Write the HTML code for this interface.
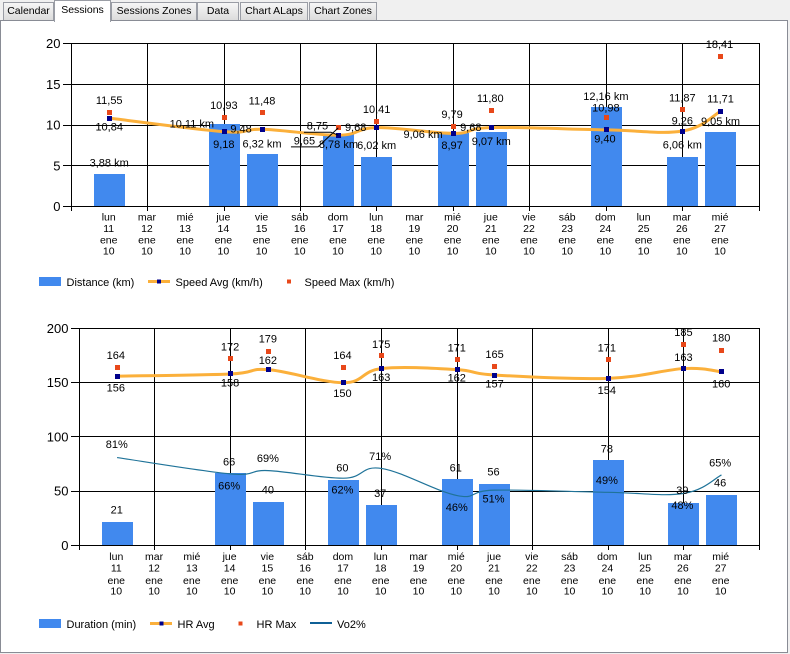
<!DOCTYPE html>
<html lang="es">
<head>
<meta charset="utf-8">
<title>Sessions charts</title>
<style>
html,body{margin:0;padding:0;background:#f0f0f0;}
#root{position:relative;width:790px;height:654px;overflow:hidden;background:#f0f0f0;font-family:"Liberation Sans",sans-serif;}
#panel{position:absolute;left:0;top:20px;width:786px;height:631px;background:#fff;border:1px solid #898c95;}
.tab{position:absolute;top:2px;height:18px;box-sizing:border-box;border:1px solid #9a9da5;border-bottom:none;background:linear-gradient(#f6f6f6,#dcdcdc);font-size:10.5px;line-height:17px;text-align:center;color:#000;}
.tab.active{top:0;height:22px;background:#fff;line-height:19px;z-index:2;border-bottom:none;}
svg{position:absolute;left:0;top:0;}
text{font-family:"Liberation Sans",sans-serif;fill:#000;}
</style>
</head>
<body>
<div id="root">
  <div id="panel"></div>
  <div class="tab" style="left:3px;width:51px">Calendar</div>
  <div class="tab active" style="left:54px;width:57px">Sessions</div>
  <div class="tab" style="left:111px;width:86px">Sessions Zones</div>
  <div class="tab" style="left:197px;width:42px">Data</div>
  <div class="tab" style="left:240px;width:68px">Chart ALaps</div>
  <div class="tab" style="left:309px;width:68px">Chart Zones</div>

  <svg id="chart" width="790" height="654" viewBox="0 0 790 654">
    <g>
      <rect x="39" y="277" width="22" height="9" fill="#4189ee"/>
      <text x="66.5" y="286" font-size="11">Distance (km)</text>
      <rect x="148" y="280" width="22" height="3" fill="#fbb03b"/>
      <rect x="157" y="279.5" width="4" height="4" fill="#00008b"/>
      <text x="175.5" y="286" font-size="11">Speed Avg (km/h)</text>
      <rect x="287" y="279.5" width="4" height="4" fill="#e8481a"/>
      <text x="304.5" y="286" font-size="11">Speed Max (km/h)</text>
    </g>
    <g>
      <rect x="39" y="619" width="22" height="9" fill="#4189ee"/>
      <text x="66.5" y="628" font-size="11">Duration (min)</text>
      <rect x="150" y="622" width="22" height="3" fill="#fbb03b"/>
      <rect x="159.5" y="621.5" width="4" height="4" fill="#00008b"/>
      <text x="177.5" y="628" font-size="11">HR Avg</text>
      <rect x="238.5" y="621.5" width="4" height="4" fill="#e8481a"/>
      <text x="256.5" y="628" font-size="11">HR Max</text>
      <rect x="310" y="622" width="22" height="2" fill="#0f6096"/>
      <text x="337" y="628" font-size="11">Vo2%</text>
    </g>
  </svg>
</div>

<script>
// ---- shared categories ----
const weekdays = ['lun','mar','mié','jue','vie','sáb','dom','lun','mar','mié','jue','vie','sáb','dom','lun','mar','mié'];
const dayNumbers = ['11','12','13','14','15','16','17','18','19','20','21','22','23','24','25','26','27'];
const monthLabel = 'ene';
const yearLabel = '10';

// ---- top chart data ----
const distanceTicks = [0,5,10,15,20];
const distanceKm = [3.88,null,null,10.11,6.32,null,8.78,6.02,null,9.06,9.07,null,null,12.16,null,6.06,9.05];
const speedAvg = [10.84,null,null,9.18,9.48,null,8.75,9.68,null,8.97,9.68,null,null,9.40,null,9.26,11.71];
const speedMax = [11.55,null,null,10.93,11.48,null,9.65,10.41,null,9.79,11.80,null,null,10.98,null,11.87,18.41];

// ---- bottom chart data ----
const durationTicks = [0,50,100,150,200];
const durationMin = [21,null,null,66,40,null,60,37,null,61,56,null,null,78,null,39,46];
const hrAvg = [156,null,null,158,162,null,150,163,null,162,157,null,null,154,null,163,160];
const hrMax = [164,null,null,172,179,null,164,175,null,171,165,null,null,171,null,185,180];
const vo2Pct = [81,null,null,66,69,null,62,71,null,46,51,null,null,49,null,48,65];

// ---- label placement relative to each mark (layout, not data) ----
const placeDistance = {0:[0,-12],3:[-32,0],4:[0,-11],6:[0,9.5],7:[0,-12],9:[-30,1.7],10:[0,9],13:[0,-11],15:[0,-12],16:[0,-11]};
const placeSpeedAvg = {0:[0,9],3:[0,13],4:[-21,0],6:[-21,-9,'leader'],7:[-21,0],9:[-1,12],10:[-20.5,0],13:[-1,9],15:[0,-10],16:[0,-12]};
const placeSpeedMax = {0:[0,-12],3:[0,-12],4:[0,-12],6:[-34,13,'leader'],7:[0,-12],9:[-1,-12],10:[-1,-12],13:[0,-9],15:[0,-12],16:[-1,-12]};
const placeDuration = {0:[0,-12.5],3:[-1,-12],4:[0,-12],6:[-1,-12.5],7:[-1,-12],9:[-1,-11.5],10:[-1,-12.5],13:[-1,-12],15:[-1,-12.7],16:[-1,-12.7]};
const placeHrAvg = {0:[-1,12],3:[0,9],4:[0,-9],6:[-1,11],7:[0,9],9:[0,8.5],10:[0,8.7],13:[-1,12],15:[0,-11],16:[0,12]};
const placeHrMax = {0:[-1,-12],3:[0,-12],4:[0,-12],6:[-1,-12],7:[0,-11],9:[0,-12],10:[0,-12],13:[-1,-12],15:[0,-12],16:[0,-12]};
const placeVo2 = {0:[0,-13],3:[-1,12],4:[0,-12],6:[-1,12],7:[-1,-12],9:[0,12],10:[-1,9],13:[-1,-12],15:[-1,12],16:[-1,-12]};

const NS = 'http://www.w3.org/2000/svg';
const svg = document.getElementById('chart');
const SPLINE_TENSION = 0.55;
function make(tag, attrs, parent){
  const el = document.createElementNS(NS, tag);
  for (const k in attrs) el.setAttribute(k, attrs[k]);
  (parent || svg).appendChild(el);
  return el;
}

function splinePath(points, tension){
  let d = 'M' + points[0][0] + ' ' + points[0][1];
  for (let i = 0; i < points.length - 1; i++){
    const p0 = points[Math.max(i-1,0)], p1 = points[i], p2 = points[i+1], p3 = points[Math.min(i+2,points.length-1)];
    const c1x = p1[0] + (p2[0]-p0[0]) * tension / 3;
    const c1y = p1[1] + (p2[1]-p0[1]) * tension / 3;
    const c2x = p2[0] - (p3[0]-p1[0]) * tension / 3;
    const c2y = p2[1] - (p3[1]-p1[1]) * tension / 3;
    d += ' C' + c1x + ' ' + c1y + ' ' + c2x + ' ' + c2y + ' ' + p2[0] + ' ' + p2[1];
  }
  return d;
}

function buildFrame(g, box, ticks, x, y, axisBaselines){
  const gridGroup = make('g', {'shape-rendering':'crispEdges', stroke:'#000', 'stroke-width':1}, g);
  
  
  ticks.forEach(function(t){
    const py = Math.round(y(t)) + 0.5;
    const line = make('line', {x1:box.left-8, x2:box.right+1, y1:py, y2:py}, gridGroup);
    
    
    const label = make('text', {x:box.left-10.5, y:y(t)+5, 'font-size':13, 'text-anchor':'end'}, g);
    
    
    label.textContent = t;
  });
  for (let i = -1; i <= weekdays.length; i += 2){
    const px = Math.floor(x(i)) + 0.5;
    const line = make('line', {x1:px, x2:px, y1:box.top, y2:box.bottom+5}, gridGroup);
    
    
  }
  weekdays.forEach(function(w, i){
    [w, dayNumbers[i], monthLabel, yearLabel].forEach(function(s, row){
      const label = make('text', {x:x(i)-0.8, y:axisBaselines[row], 'font-size':10.5, 'text-anchor':'middle'}, g);
      
      
      label.textContent = s;
    });
  });
}

function drawBars(g, values, x, y){
  values.forEach(function(v, i){
    if (v === null) return;
    const top = Math.round(y(v)), bottom = Math.round(y(0));
    const bar = make('rect', {x:Math.round(x(i)-15.5), y:top, width:31, height:bottom-top, fill:'#4189ee', 'shape-rendering':'crispEdges'}, g);
    
    
  });
}

function presentPoints(values, x, y){
  const pts = [];
  values.forEach(function(v, i){ if (v !== null) pts.push([x(i), y(v)+0.5]); });
  return pts;
}

function drawMarkers(g, values, x, y, fill){
  values.forEach(function(v, i){
    if (v === null) return;
    const m = make('rect', {x:Math.round(x(i)-2.5), y:Math.round(y(v)-2), width:5, height:5, fill:fill, 'shape-rendering':'crispEdges'}, g);
    
    
  });
}

function drawLabels(g, values, anchorY, x, format, place){
  values.forEach(function(v, i){
    if (v === null) return;
    const p = place[i] || [0,-12];
    const mx = x(i), my = anchorY(v), lx = mx + p[0] - 0.3, ly = my + p[1];
    if (p[2] === 'leader'){
      const w = 13.5;
      const lead = make('path', {d:'M'+(lx-w)+' '+(ly+6.5)+' H'+(lx+w)+' L'+(mx-0.5)+' '+(my+0.5), fill:'none', stroke:'#000', 'stroke-width':1}, g);
      
      
    }
    const t = make('text', {x:lx, y:ly+4, 'font-size':11, 'text-anchor':'middle'}, g);
    
    
    t.textContent = format(v);
  });
}

const comma2 = function(v){ return v.toFixed(2).replace('.', ','); };
const km = function(v){ return comma2(v) + ' km'; };
const whole = function(v){ return String(v); };
const pct = function(v){ return v + '%'; };

// ---- top chart ----
const boxTop = {left:71, right:759, top:43, bottom:206};
function xTop(i){ return 71.3 + 38.2075*(i+1); }
function yTop(v){ return 206 - v*8.15; }

const chartTop = make('g', {});


buildFrame(chartTop, boxTop, distanceTicks, xTop, yTop, [220.5,232,243.5,254.5]);
drawBars(chartTop, distanceKm, xTop, yTop);
const speedLine = make('path', {d:splinePath(presentPoints(speedAvg,xTop,yTop),SPLINE_TENSION), fill:'none', stroke:'#fbb03b', 'stroke-width':3}, chartTop);


drawMarkers(chartTop, speedMax, xTop, yTop, '#e8481a');
drawMarkers(chartTop, speedAvg, xTop, yTop, '#00008b');
drawLabels(chartTop, distanceKm, yTop, xTop, km, placeDistance);
drawLabels(chartTop, speedMax, yTop, xTop, comma2, placeSpeedMax);
drawLabels(chartTop, speedAvg, yTop, xTop, comma2, placeSpeedAvg);

// ---- bottom chart ----
const boxBottom = {left:79, right:759, top:328, bottom:545};
function xBottom(i){ return 79.3 + 37.775*(i+1); }
function yBottom(v){ return 545 - v*1.08550; }

const chartBottom = make('g', {});


buildFrame(chartBottom, boxBottom, durationTicks, xBottom, yBottom, [560,571.5,584,594.5]);
drawBars(chartBottom, durationMin, xBottom, yBottom);
const hrLine = make('path', {d:splinePath(presentPoints(hrAvg,xBottom,yBottom),SPLINE_TENSION), fill:'none', stroke:'#fbb03b', 'stroke-width':3}, chartBottom);


const vo2Line = make('path', {d:splinePath(presentPoints(vo2Pct,xBottom,yBottom),SPLINE_TENSION), fill:'none', stroke:'#1f7399', 'stroke-width':1.2}, chartBottom);


drawMarkers(chartBottom, hrMax, xBottom, yBottom, '#e8481a');
drawMarkers(chartBottom, hrAvg, xBottom, yBottom, '#00008b');
drawLabels(chartBottom, durationMin, yBottom, xBottom, whole, placeDuration);
drawLabels(chartBottom, hrMax, yBottom, xBottom, whole, placeHrMax);
drawLabels(chartBottom, hrAvg, yBottom, xBottom, whole, placeHrAvg);
drawLabels(chartBottom, vo2Pct, yBottom, xBottom, pct, placeVo2);
</script>
</body>
</html>
